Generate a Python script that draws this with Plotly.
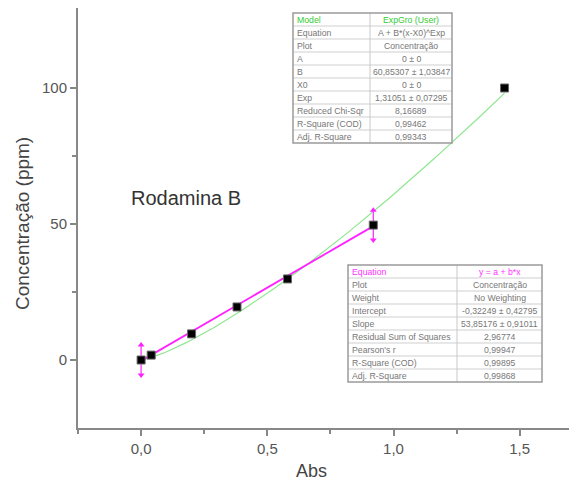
import numpy as np
import plotly.graph_objects as go

# ---- data ----
abs_vals = [0.0, 0.04, 0.20, 0.38, 0.58, 0.92, 1.44]
conc_vals = [0.0, 1.8, 9.6, 19.5, 29.8, 49.6, 100.0]

# linear fit parameters (from table)
lin_intercept = -0.32249
lin_slope = 53.85176
lin_range = [0.0, 0.92]

# power fit parameters (from table)
pow_A = 0.0
pow_B = 60.85307
pow_X0 = 0.0
pow_Exp = 1.31051
pow_range = [0.0, 1.44]

# range markers of linear fit (x positions and y centres)
marker_x = [0.0, 0.92]
marker_y = [0.0, 49.6]
marker_half = 5.5

x_ticks = [0.0, 0.5, 1.0, 1.5]
y_ticks = [0, 50, 100]

top_rows = [
    ("Model", "ExpGro (User)"),
    ("Equation", "A + B*(x-X0)^Exp"),
    ("Plot", "Concentração"),
    ("A", "0 ± 0"),
    ("B", "60,85307 ± 1,03847"),
    ("X0", "0 ± 0"),
    ("Exp", "1,31051 ± 0,07295"),
    ("Reduced Chi-Sqr", "8,16689"),
    ("R-Square (COD)", "0,99462"),
    ("Adj. R-Square", "0,99343"),
]
bot_rows = [
    ("Equation", "y = a + b*x"),
    ("Plot", "Concentração"),
    ("Weight", "No Weighting"),
    ("Intercept", "-0,32249 ± 0,42795"),
    ("Slope", "53,85176 ± 0,91011"),
    ("Residual Sum of Squares", "2,96774"),
    ("Pearson's r", "0,99947"),
    ("R-Square (COD)", "0,99895"),
    ("Adj. R-Square", "0,99868"),
]

# ---- layout geometry ----
# page body has an 8px margin, so the figure is 8px smaller than the window
OFF = 8
W, H = 577 - OFF, 487 - OFF
# plot area in window pixels
PL, PR, PT, PB = 78, 577, 8, 428
L = PL - OFF
T = PT - OFF
B = H - (PB - OFF)
R = W - (PR - OFF)
PW = PR - PL
PH = PB - PT

X_PER_UNIT = 252.4
Y_PER_UNIT = 2.72


def px(x):
    return (x - PL) / PW


def py(y):
    return (PB - y) / PH


fig = go.Figure()

# power fit curve
xg = np.linspace(pow_range[0], pow_range[1], 200)
yg = pow_A + pow_B * np.power(xg - pow_X0, pow_Exp)
fig.add_trace(go.Scatter(x=xg, y=yg, mode="lines",
                         line=dict(color="#8ee68e", width=1.2), hoverinfo="skip"))

# linear fit line
xl = np.array(lin_range)
fig.add_trace(go.Scatter(x=xl, y=lin_intercept + lin_slope * xl, mode="lines",
                         line=dict(color="#ff22ff", width=1.8), hoverinfo="skip"))

# range markers
for mx, my in zip(marker_x, marker_y):
    fig.add_trace(go.Scatter(
        x=[mx, mx], y=[my - marker_half, my + marker_half], mode="lines+markers",
        line=dict(color="#ff22ff", width=1.2),
        marker=dict(symbol=["triangle-down", "triangle-up"], size=6, color="#ff22ff"),
        hoverinfo="skip"))

# data points
fig.add_trace(go.Scatter(x=abs_vals, y=conc_vals, mode="markers",
                         marker=dict(symbol="square", size=8, color="black",
                                     line=dict(color="#666", width=1))))

shapes = []
annotations = []
TFS = 8.7


def add_table(rows, x0, x1, xmid, y0, rh, head_color):
    n = len(rows)
    y1 = y0 + rh * n
    for i in range(1, n):
        yy = y0 + rh * i
        shapes.append(dict(type="line", xref="paper", yref="paper",
                           x0=px(x0), x1=px(x1), y0=py(yy), y1=py(yy),
                           line=dict(color="#cfcfcf", width=1)))
    shapes.append(dict(type="line", xref="paper", yref="paper",
                       x0=px(xmid), x1=px(xmid), y0=py(y0), y1=py(y1),
                       line=dict(color="#c8c8c8", width=1)))
    shapes.append(dict(type="rect", xref="paper", yref="paper",
                       x0=px(x0), x1=px(x1), y0=py(y0), y1=py(y1),
                       line=dict(color="#9a9a9a", width=1.5)))
    for i, (a, b) in enumerate(rows):
        yc = y0 + rh * (i + 0.5)
        col = head_color if i == 0 else "#777777"
        annotations.append(dict(xref="paper", yref="paper", x=px(x0 + 2), y=py(yc),
                                text=a, showarrow=False, xanchor="left", yanchor="middle",
                                font=dict(family="Liberation Sans", size=TFS, color=col)))
        annotations.append(dict(xref="paper", yref="paper", x=px((xmid + x1) / 2), y=py(yc),
                                text=b, showarrow=False, xanchor="center", yanchor="middle",
                                font=dict(family="Liberation Sans", size=TFS, color=col)))


add_table(top_rows, 293, 452, 370, 13, 13, "#33cc33")
add_table(bot_rows, 348, 542, 457, 265, 13, "#ff33ff")

annotations.append(dict(xref="paper", yref="paper", x=px(129), y=py(198),
                        text="Rodamina B", showarrow=False, xanchor="left", yanchor="middle",
                        font=dict(family="Liberation Sans", size=20, color="#333")))
annotations.append(dict(xref="paper", yref="paper", x=px(311), y=py(471),
                        text="Abs", showarrow=False, xanchor="center", yanchor="middle",
                        font=dict(family="Liberation Sans", size=18, color="#444")))
annotations.append(dict(xref="paper", yref="paper", x=px(23), y=py(224),
                        text="Concentração (ppm)", showarrow=False, textangle=-90,
                        xanchor="center", yanchor="middle",
                        font=dict(family="Liberation Sans", size=19, color="#444")))

x_min = -0.25
x_max = x_min + PW / X_PER_UNIT
y_min = -25
y_max = y_min + PH / Y_PER_UNIT

fig.update_layout(
    width=W, height=H,
    margin=dict(l=L, r=R, t=T, b=B, pad=0),
    plot_bgcolor="white", paper_bgcolor="white",
    showlegend=False,
    separators=", ",
    shapes=shapes,
    annotations=annotations,
    xaxis=dict(range=[x_min, x_max], tickvals=x_ticks, tickformat=".1f",
               showgrid=False, zeroline=False, showline=True, linecolor="#888",
               linewidth=2, ticks="outside", ticklen=6, tickcolor="#888", tickwidth=1.5,
               minor=dict(tickvals=[-0.25, 0.25, 0.75, 1.25], ticks="outside",
                          ticklen=4, tickcolor="#888", tickwidth=1.5),
               tickfont=dict(family="Liberation Sans", size=15, color="#555")),
    yaxis=dict(range=[y_min, y_max], tickvals=y_ticks,
               showgrid=False, zeroline=False, showline=True, linecolor="#888",
               linewidth=2, ticks="outside", ticklen=6, tickcolor="#888", tickwidth=1.5,
               minor=dict(tickvals=[25, 75], ticks="outside",
                          ticklen=4, tickcolor="#888", tickwidth=1.5),
               tickfont=dict(family="Liberation Sans", size=15, color="#555")),
)

fig.write_html("out.html")
